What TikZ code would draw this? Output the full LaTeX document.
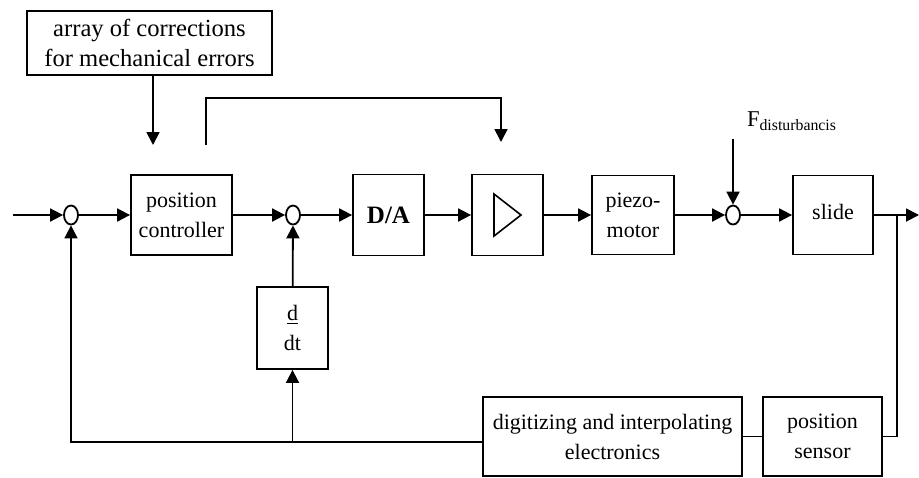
\documentclass[tikz,border=0pt]{standalone}
\usepackage{fontspec}
\setmainfont{Liberation Serif}
\usetikzlibrary{arrows.meta,shapes.geometric}

\tikzset{
  block/.style={draw, line width=0.9pt, inner sep=0pt, align=center, font=\fontsize{11}{15}\selectfont},
  junction/.style={draw, ellipse, line width=0.9pt, minimum width=7pt, minimum height=9.5pt, inner sep=0pt},
  sig/.style={line width=0.9pt, -{Triangle[length=6.5pt,width=6.5pt]}},
  wire/.style={line width=0.9pt}
}

\begin{document}
\begin{tikzpicture}[x=0.5pt, y=-0.5pt]
	\useasboundingbox (0,0) rectangle (919,477);
	% CORRECTIONS
	\node (corr) at (149.5,43) [block, minimum width=122.5pt, minimum height=32pt, font=\fontsize{12.3}{15}\selectfont] {array of corrections\\for mechanical errors};
	% MAIN LINE
	\node (c1) at (71,215) [junction] {};
	\node (posc) at (181.5,215) [block, minimum width=50.5pt, minimum height=40pt] {position\\controller};
	\node (c2) at (293,215) [junction] {};
	\node (da) at (388.5,215) [block, minimum width=35.5pt, minimum height=40.5pt, font=\fontsize{12.5}{15}\selectfont] {\textbf{D/A}};
	\node (amp) at (507.5,215) [block, minimum width=35.5pt, minimum height=40.5pt] {};
	\node (piezo) at (633,215) [block, minimum width=41pt, minimum height=39.5pt] {piezo-\\motor};
	\node (c3) at (733,215) [junction] {};
	\node (slide) at (833,215) [block, minimum width=40pt, minimum height=39.5pt] {\raisebox{3pt}{slide}};
	% FEEDBACK
	\node (ddt) at (292.5,328) [block, minimum width=35.5pt, minimum height=41pt] {\underline{d}\\dt};
	\node (dig) at (612.5,436.5) [block, minimum width=129.5pt, minimum height=39.5pt] {digitizing and interpolating\\electronics};
	\node (sensor) at (822.5,436.5) [block, minimum width=59.5pt, minimum height=39.5pt] {position\\sensor};
	\node (flab) at (792,121) [font=\fontsize{11.3}{13}\selectfont] {F\textsubscript{disturbancis}};

	\coordinate (in) at (13,215);
	\coordinate (out) at (919,215);
	\coordinate (tap) at (897,215);
	\coordinate (fb) at (71,442);
	\coordinate (corrin) at (153,145);
	\coordinate (bypin) at (206,145);
	\coordinate (bypout) at (501,142);
	\coordinate (distin) at (733,139);

	% AMPLIFIER SYMBOL
	\draw[line width=0.8pt] (494,194) -- (521,215) -- (494,236) -- cycle;

	% SIGNALS
	\draw[sig] (in) -- (c1);
	\draw[sig] (c1) -- (posc);
	\draw[sig] (posc) -- (c2);
	\draw[sig] (c2) -- (da);
	\draw[sig] (da) -- (amp);
	\draw[sig] (amp) -- (piezo);
	\draw[sig] (piezo) -- (c3);
	\draw[sig] (c3) -- (slide);
	\draw[sig] (slide) -- (out);
	\draw[sig] (corr.south -| corrin) -- (corrin);
	\draw[sig] (bypin) -- ++(0,-47) -| (bypout);
	\draw[sig] (distin) -- (c3);
	\draw[wire] (tap) |- (sensor.east);
	\draw[wire] (sensor) -- (dig);
	\draw[sig] (dig.west |- fb) -- (fb) -- (c1);
	\draw[sig] (ddt |- fb) -- (ddt);
	\draw[sig] (ddt) -- (c2);
\end{tikzpicture}
\end{document}
